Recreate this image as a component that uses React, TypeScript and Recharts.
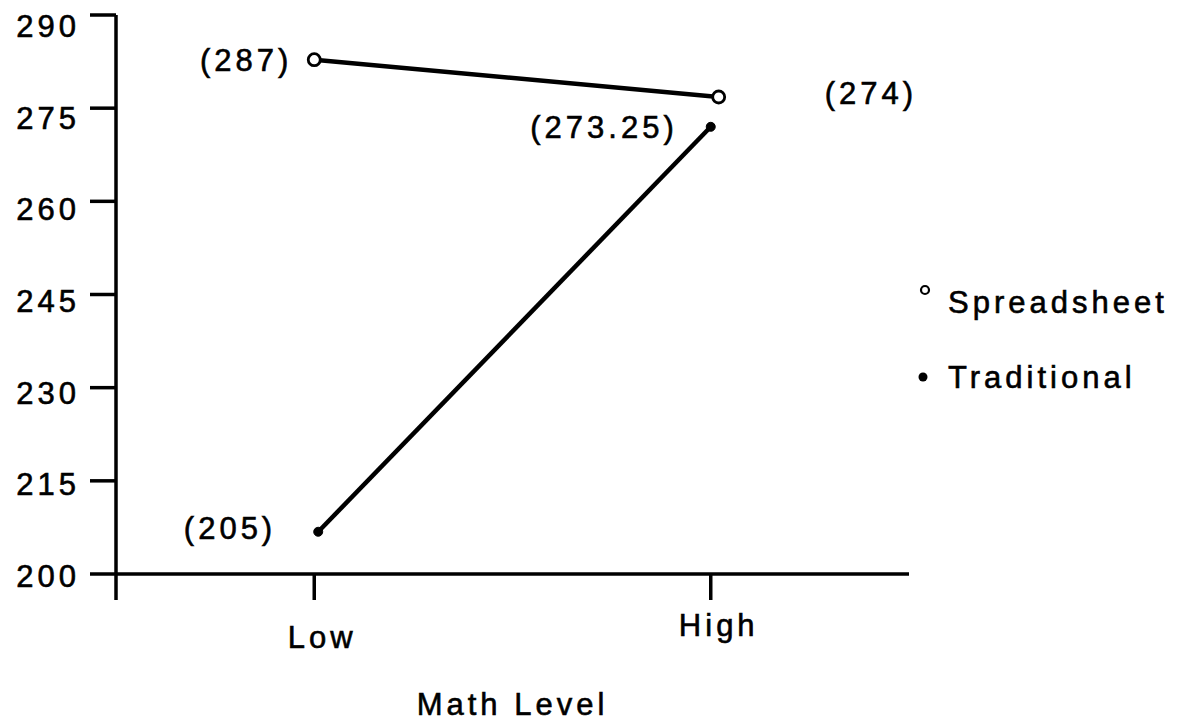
import { LineChart, Line, XAxis, YAxis, Legend } from "recharts";

// values
const categories = ["Low", "High"];
const categoryTicks = [1, 3];
const yTicks = [200, 215, 230, 245, 260, 275, 290];

const spreadsheetX = [1, 3.04];
const spreadsheetY = [282.8, 276.8];
const spreadsheetLabels = ["(287)", "(274)"];

const traditionalX = [1.02, 3];
const traditionalY = [206.8, 272];
const traditionalLabels = ["(205)", "(273.25)"];

const FONT = "'Liberation Sans', Arial, Helvetica, sans-serif";
const INK = "#000";
const textStyle = {
  fontFamily: FONT,
  fontSize: 31,
  letterSpacing: 4,
  fill: INK,
  stroke: INK,
  strokeWidth: 0.6,
};

const spreadsheetData = spreadsheetX.map((x, i) => ({ x, y: spreadsheetY[i] }));
const traditionalData = traditionalX.map((x, i) => ({ x, y: traditionalY[i] }));

// where each annotation sits relative to its point
const spreadsheetOffsets = [
  { dx: -22, dy: 11, anchor: "end" },
  { dx: 106, dy: 7, anchor: "start" },
];
const traditionalOffsets = [
  { dx: -42, dy: 7, anchor: "end" },
  { dx: -33, dy: 11, anchor: "end" },
];

const makeLabel = (texts: string[], offsets: any[]) => (props: any) => {
  const { x, y, index } = props;
  const o = offsets[index];
  return (
    <text x={x + o.dx} y={y + o.dy} textAnchor={o.anchor} style={textStyle}>
      {texts[index]}
    </text>
  );
};

const XTick = (props: any) => {
  const { x, y, payload } = props;
  const idx = categoryTicks.indexOf(payload.value);
  if (idx < 0) return null;
  const name = categories[idx];
  const dy = name === "Low" ? 72 : 60;
  return (
    <text x={x + 8} y={y + dy - 26} textAnchor="middle" style={textStyle}>
      {name}
    </text>
  );
};

// the scanned labels drift a little below their tick marks toward the top
const YTick = (props: any) => {
  const { x, y, payload } = props;
  const drift = 2 + (payload.value - 200) / 10;
  return (
    <text x={x} y={y + drift + 11} textAnchor="end" style={textStyle}>
      {payload.value}
    </text>
  );
};

const renderLegend = () => (
  <svg width={272} height={130}>
    <circle cx={20} cy={20} r={4} fill="none" stroke={INK} strokeWidth={2.2} />
    <text x={43} y={43} style={textStyle}>Spreadsheet</text>
    <circle cx={18} cy={107} r={4.5} fill={INK} />
    <text x={43} y={118} style={textStyle}>Traditional</text>
  </svg>
);

export default function App() {
  return (
    <div style={{ position: "absolute", left: 0, top: 0, width: 1177, height: 722, background: "#fff" }}>
      <LineChart
        width={1177}
        height={722}
        margin={{ top: 15, right: 268, bottom: 0, left: 0 }}
      >
        <XAxis
          type="number"
          dataKey="x"
          domain={[0, 4]}
          ticks={[0, ...categoryTicks]}
          interval={0}
          height={148}
          tickSize={26}
          tick={<XTick />}
          axisLine={{ stroke: INK, strokeWidth: 3.5 }}
          tickLine={{ stroke: INK, strokeWidth: 3.5 }}
          label={{
            value: "Math Level",
            position: "insideBottom",
            offset: 7,
            style: { ...textStyle, textAnchor: "middle" },
          }}
        />
        <YAxis
          type="number"
          domain={[200, 290]}
          ticks={yTicks}
          interval={0}
          width={116}
          tickSize={26}
          tickMargin={10}
          tick={<YTick />}
          axisLine={{ stroke: INK, strokeWidth: 3.5 }}
          tickLine={{ stroke: INK, strokeWidth: 3.5 }}
        />
        <Legend
          layout="horizontal"
          verticalAlign="middle"
          align="center"
          content={renderLegend}
          wrapperStyle={{ position: "absolute", left: 905, top: 270, width: 272, height: 130 }}
        />
        <Line
          data={spreadsheetData}
          dataKey="y"
          name="Spreadsheet"
          stroke={INK}
          strokeWidth={4.5}
          dot={{ r: 6, fill: "#fff", stroke: INK, strokeWidth: 2.8 }}
          label={makeLabel(spreadsheetLabels, spreadsheetOffsets)}
          isAnimationActive={false}
        />
        <Line
          data={traditionalData}
          dataKey="y"
          name="Traditional"
          stroke={INK}
          strokeWidth={4.5}
          dot={{ r: 4.5, fill: INK, stroke: INK, strokeWidth: 1 }}
          label={makeLabel(traditionalLabels, traditionalOffsets)}
          isAnimationActive={false}
        />
      </LineChart>
    </div>
  );
}
